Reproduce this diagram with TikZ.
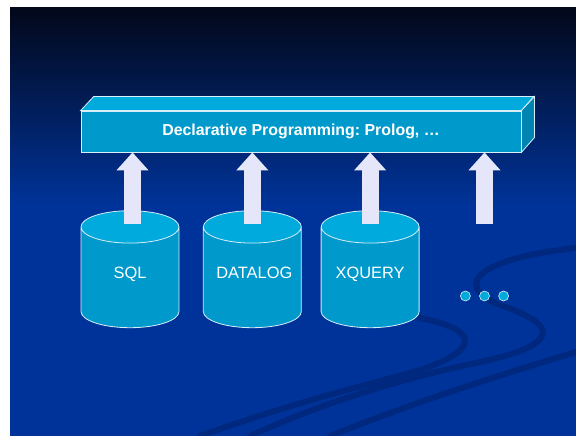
\documentclass[tikz,border=0pt]{standalone}
\usepackage{fontspec}
\setmainfont{Liberation Sans}
\usetikzlibrary{shapes.geometric, positioning, arrows.meta}
\frenchspacing

\definecolor{slideblue}{HTML}{003399}
\definecolor{slidetop}{HTML}{03081A}
\definecolor{swoosh}{HTML}{00287E}
\definecolor{boxfront}{HTML}{0099CC}
\definecolor{boxtop}{HTML}{00AADD}
\definecolor{boxside}{HTML}{0085B2}
\definecolor{arrowfill}{HTML}{E6E6FA}
\definecolor{rimline}{HTML}{D8EEF8}

\tikzset{
  node distance=24pt,
  bar/.style={draw=rimline, fill=boxfront, line width=0.8pt, minimum width=440pt,
    minimum height=41pt, inner sep=0pt, text=white, font=\bfseries\fontsize{15.9}{18}\selectfont},
  db/.style={cylinder, shape border rotate=90, aspect=0.45, draw=rimline, line width=0.8pt,
    cylinder uses custom fill, cylinder body fill=boxfront, cylinder end fill=boxtop,
    minimum width=98pt, minimum height=117pt, inner sep=0pt, text=white,
    text width=72pt, text height=11.5pt, text depth=10pt, align=center,
    font=\fontsize{16.4}{19}\selectfont},
  uparrow/.style={arrowfill, line width=17pt, -{Triangle[width=31pt, length=18pt]}},
  more/.style={circle, draw=rimline, fill=boxtop, line width=0.6pt, minimum size=10pt, inner sep=0pt},
}

\begin{document}
\begin{tikzpicture}[x=1pt, y=-1pt]
  \useasboundingbox (0,0) rectangle (576,436);

  % slide background
  \fill[white] (0,0) rectangle (576,436);
  \shade[top color=slidetop, bottom color=slideblue] (10,8) rectangle (576,206);
  \fill[slideblue] (10,205) rectangle (576,436);
  \begin{scope}[swoosh, line width=6pt, line cap=round]
    \draw (576,248) .. controls (480,258) and (450,285) .. (500,305)
          .. controls (560,325) and (560,345) .. (480,362)
          .. controls (420,375) and (340,395) .. (250,436);
    \draw (420,318) .. controls (480,330) and (480,350) .. (420,370)
          .. controls (380,382) and (300,400) .. (200,436);
    \draw (576,352) .. controls (500,375) and (420,400) .. (330,436);
  \end{scope}

  % top box
  \node[bar] (decl) at (301,131.5) {Declarative Programming: Prolog, …};
  \draw[bar, fill=boxtop] (decl.north west) -- ++(13,-14) -- ++(440,0)
    -- (decl.north east) -- cycle;
  \draw[bar, fill=boxside] (decl.north east) -- ++(13,-14) -- ++(0,41)
    -- (decl.south east) -- cycle;

  % languages
  \node[db] (sql) at (130,277.5) {SQL};
  \node[db, right=23.5pt of sql] (datalog) {DATALOG};
  \node[db, right=19pt of datalog] (xquery) {XQUERY};

  % more
  \node[more] (dot2) at (484.5,296) {};
  \node[more, left=8.5pt of dot2] (dot1) {};
  \node[more, right=8.5pt of dot2] (dot3) {};

  % arrows
  \coordinate (foot) at (0,224);
  \draw[uparrow] ([xshift=2.5pt]sql.center |- foot) -- ([xshift=2.5pt]sql.center |- decl.south);
  \draw[uparrow] (datalog |- foot) -- (datalog |- decl.south);
  \draw[uparrow] (xquery |- foot) -- (xquery |- decl.south);
  \draw[uparrow] (dot2 |- foot) -- (dot2 |- decl.south);
\end{tikzpicture}
\end{document}
